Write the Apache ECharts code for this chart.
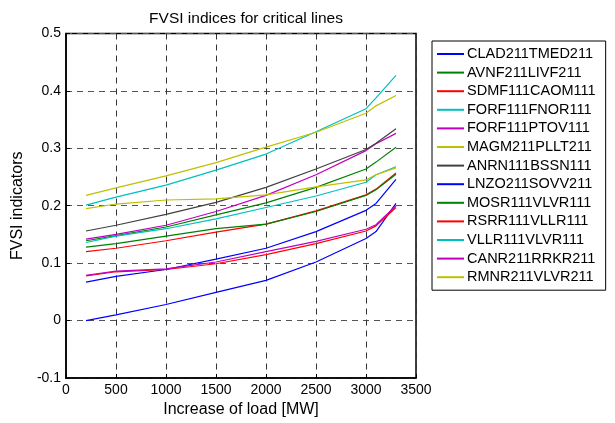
<!DOCTYPE html>
<html>
<head>
<meta charset="utf-8">
<script src="https://cdn.jsdelivr.net/npm/echarts@6/dist/echarts.min.js"></script>
<style>
html,body{margin:0;padding:0;background:#fff;}
#chart{width:615px;height:423px;}
</style>
</head>
<body>
<div id="chart"></div>
<script>
const loadMW = [200, 500, 1000, 1500, 2000, 2500, 3000, 3100, 3300];

const CLAD211TMED211 = [0.000, 0.010, 0.028, 0.049, 0.070, 0.102, 0.143, 0.155, 0.204];
const AVNF211LIVF211 = [0.139, 0.148, 0.163, 0.184, 0.205, 0.232, 0.264, 0.276, 0.302];
const SDMF111CAOM111 = [0.120, 0.126, 0.139, 0.154, 0.168, 0.191, 0.219, 0.229, 0.257];
const FORF111FNOR111 = [0.201, 0.215, 0.236, 0.262, 0.290, 0.329, 0.369, 0.388, 0.427];
const FORF111PTOV111 = [0.142, 0.150, 0.166, 0.190, 0.218, 0.254, 0.296, 0.308, 0.326];
const MAGM211PLLT211 = [0.218, 0.231, 0.252, 0.275, 0.302, 0.328, 0.361, 0.374, 0.392];
const ANRN111BSSN111 = [0.156, 0.166, 0.185, 0.206, 0.232, 0.264, 0.298, 0.309, 0.334];
const LNZO211SOVV211 = [0.067, 0.077, 0.089, 0.107, 0.126, 0.155, 0.192, 0.204, 0.246];
const MOSR111VLVR111 = [0.128, 0.134, 0.147, 0.160, 0.168, 0.190, 0.218, 0.228, 0.255];
const RSRR111VLLR111 = [0.078, 0.085, 0.089, 0.099, 0.115, 0.134, 0.156, 0.165, 0.197];
const VLLR111VLVR111 = [0.136, 0.147, 0.160, 0.177, 0.197, 0.217, 0.241, 0.254, 0.268];
const CANR211RRKR211 = [0.079, 0.086, 0.090, 0.102, 0.120, 0.138, 0.159, 0.167, 0.200];
const RMNR211VLVR211 = [0.195, 0.203, 0.210, 0.212, 0.219, 0.233, 0.245, 0.254, 0.266];

const seriesNames = ['CLAD211TMED211','AVNF211LIVF211','SDMF111CAOM111','FORF111FNOR111',
  'FORF111PTOV111','MAGM211PLLT211','ANRN111BSSN111','LNZO211SOVV211','MOSR111VLVR111',
  'RSRR111VLLR111','VLLR111VLVR111','CANR211RRKR211','RMNR211VLVR211'];
const seriesValues = [CLAD211TMED211, AVNF211LIVF211, SDMF111CAOM111, FORF111FNOR111,
  FORF111PTOV111, MAGM211PLLT211, ANRN111BSSN111, LNZO211SOVV211, MOSR111VLVR111,
  RSRR111VLLR111, VLLR111VLVR111, CANR211RRKR211, RMNR211VLVR211];
const palette = ['#0000ff','#008000','#ff0000','#00bfbf','#bf00bf','#bfbf00','#404040'];

const FONT = '"Liberation Sans", Arial, sans-serif';
const chart = echarts.init(document.getElementById('chart'), null, {renderer:'canvas'});

const series = seriesNames.map((name, i) => ({
  name: name,
  type: 'line',
  showSymbol: false,
  symbol: 'none',
  smooth: false,
  animation: false,
  color: palette[i % 7],
  lineStyle: {width: 1.2, color: palette[i % 7]},
  data: loadMW.map((x, j) => [x, seriesValues[i][j]])
}));

chart.setOption({
  animation: false,
  backgroundColor: '#fff',
  title: {
    text: 'FVSI indices for critical lines',
    left: 241, top: 6, textAlign: 'center',
    textStyle: {fontFamily: FONT, fontSize: 15.5, fontWeight: 'normal', color: '#000'}
  },
  grid: {
    left: 66, right: 199, top: 33.5, bottom: 39,
    show: true, borderColor: '#000', borderWidth: 1.5, containLabel: false
  },
  legend: {
    orient: 'vertical',
    left: 432, top: 41,
    icon: 'rect',
    itemWidth: 27, itemHeight: 2,
    itemGap: 2.6,
    padding: [5, 10, 5, 5],
    borderColor: '#000', borderWidth: 1,
    textStyle: {fontFamily: FONT, fontSize: 14.5, color: '#000', lineHeight: 16, padding: [0,0,0,-2]},
    data: seriesNames
  },
  xAxis: {
    type: 'value', min: 0, max: 3500, interval: 500,
    name: 'Increase of load [MW]', nameLocation: 'middle', nameGap: 24,
    nameTextStyle: {fontFamily: FONT, fontSize: 16, color: '#000'},
    axisLine: {show: true, onZero: false, lineStyle: {color: '#000', width: 1.5}},
    axisTick: {show: true, inside: true, length: 4, lineStyle: {color: '#000'}},
    axisLabel: {fontFamily: FONT, fontSize: 14, color: '#000', margin: 5,
      formatter: v => String(v)},
    splitLine: {show: true, lineStyle: {color: '#333', type: [6, 5], width: 1}}
  },
  yAxis: {
    type: 'value', min: -0.1, max: 0.5, interval: 0.1,
    name: 'FVSI indicators', nameLocation: 'middle', nameGap: 37,
    nameTextStyle: {fontFamily: FONT, fontSize: 16, color: '#000'},
    axisLine: {show: true, onZero: false, lineStyle: {color: '#000', width: 1.5}},
    axisTick: {show: true, inside: true, length: 4, lineStyle: {color: '#000'}},
    axisLabel: {fontFamily: FONT, fontSize: 14, color: '#000', margin: 5,
      formatter: v => Math.abs(v) < 1e-9 ? '0' : String(+v.toFixed(1))},
    splitLine: {show: true, lineStyle: {color: '#555', type: [6, 5], width: 1}}
  },
  series: series
});
</script>
</body>
</html>
